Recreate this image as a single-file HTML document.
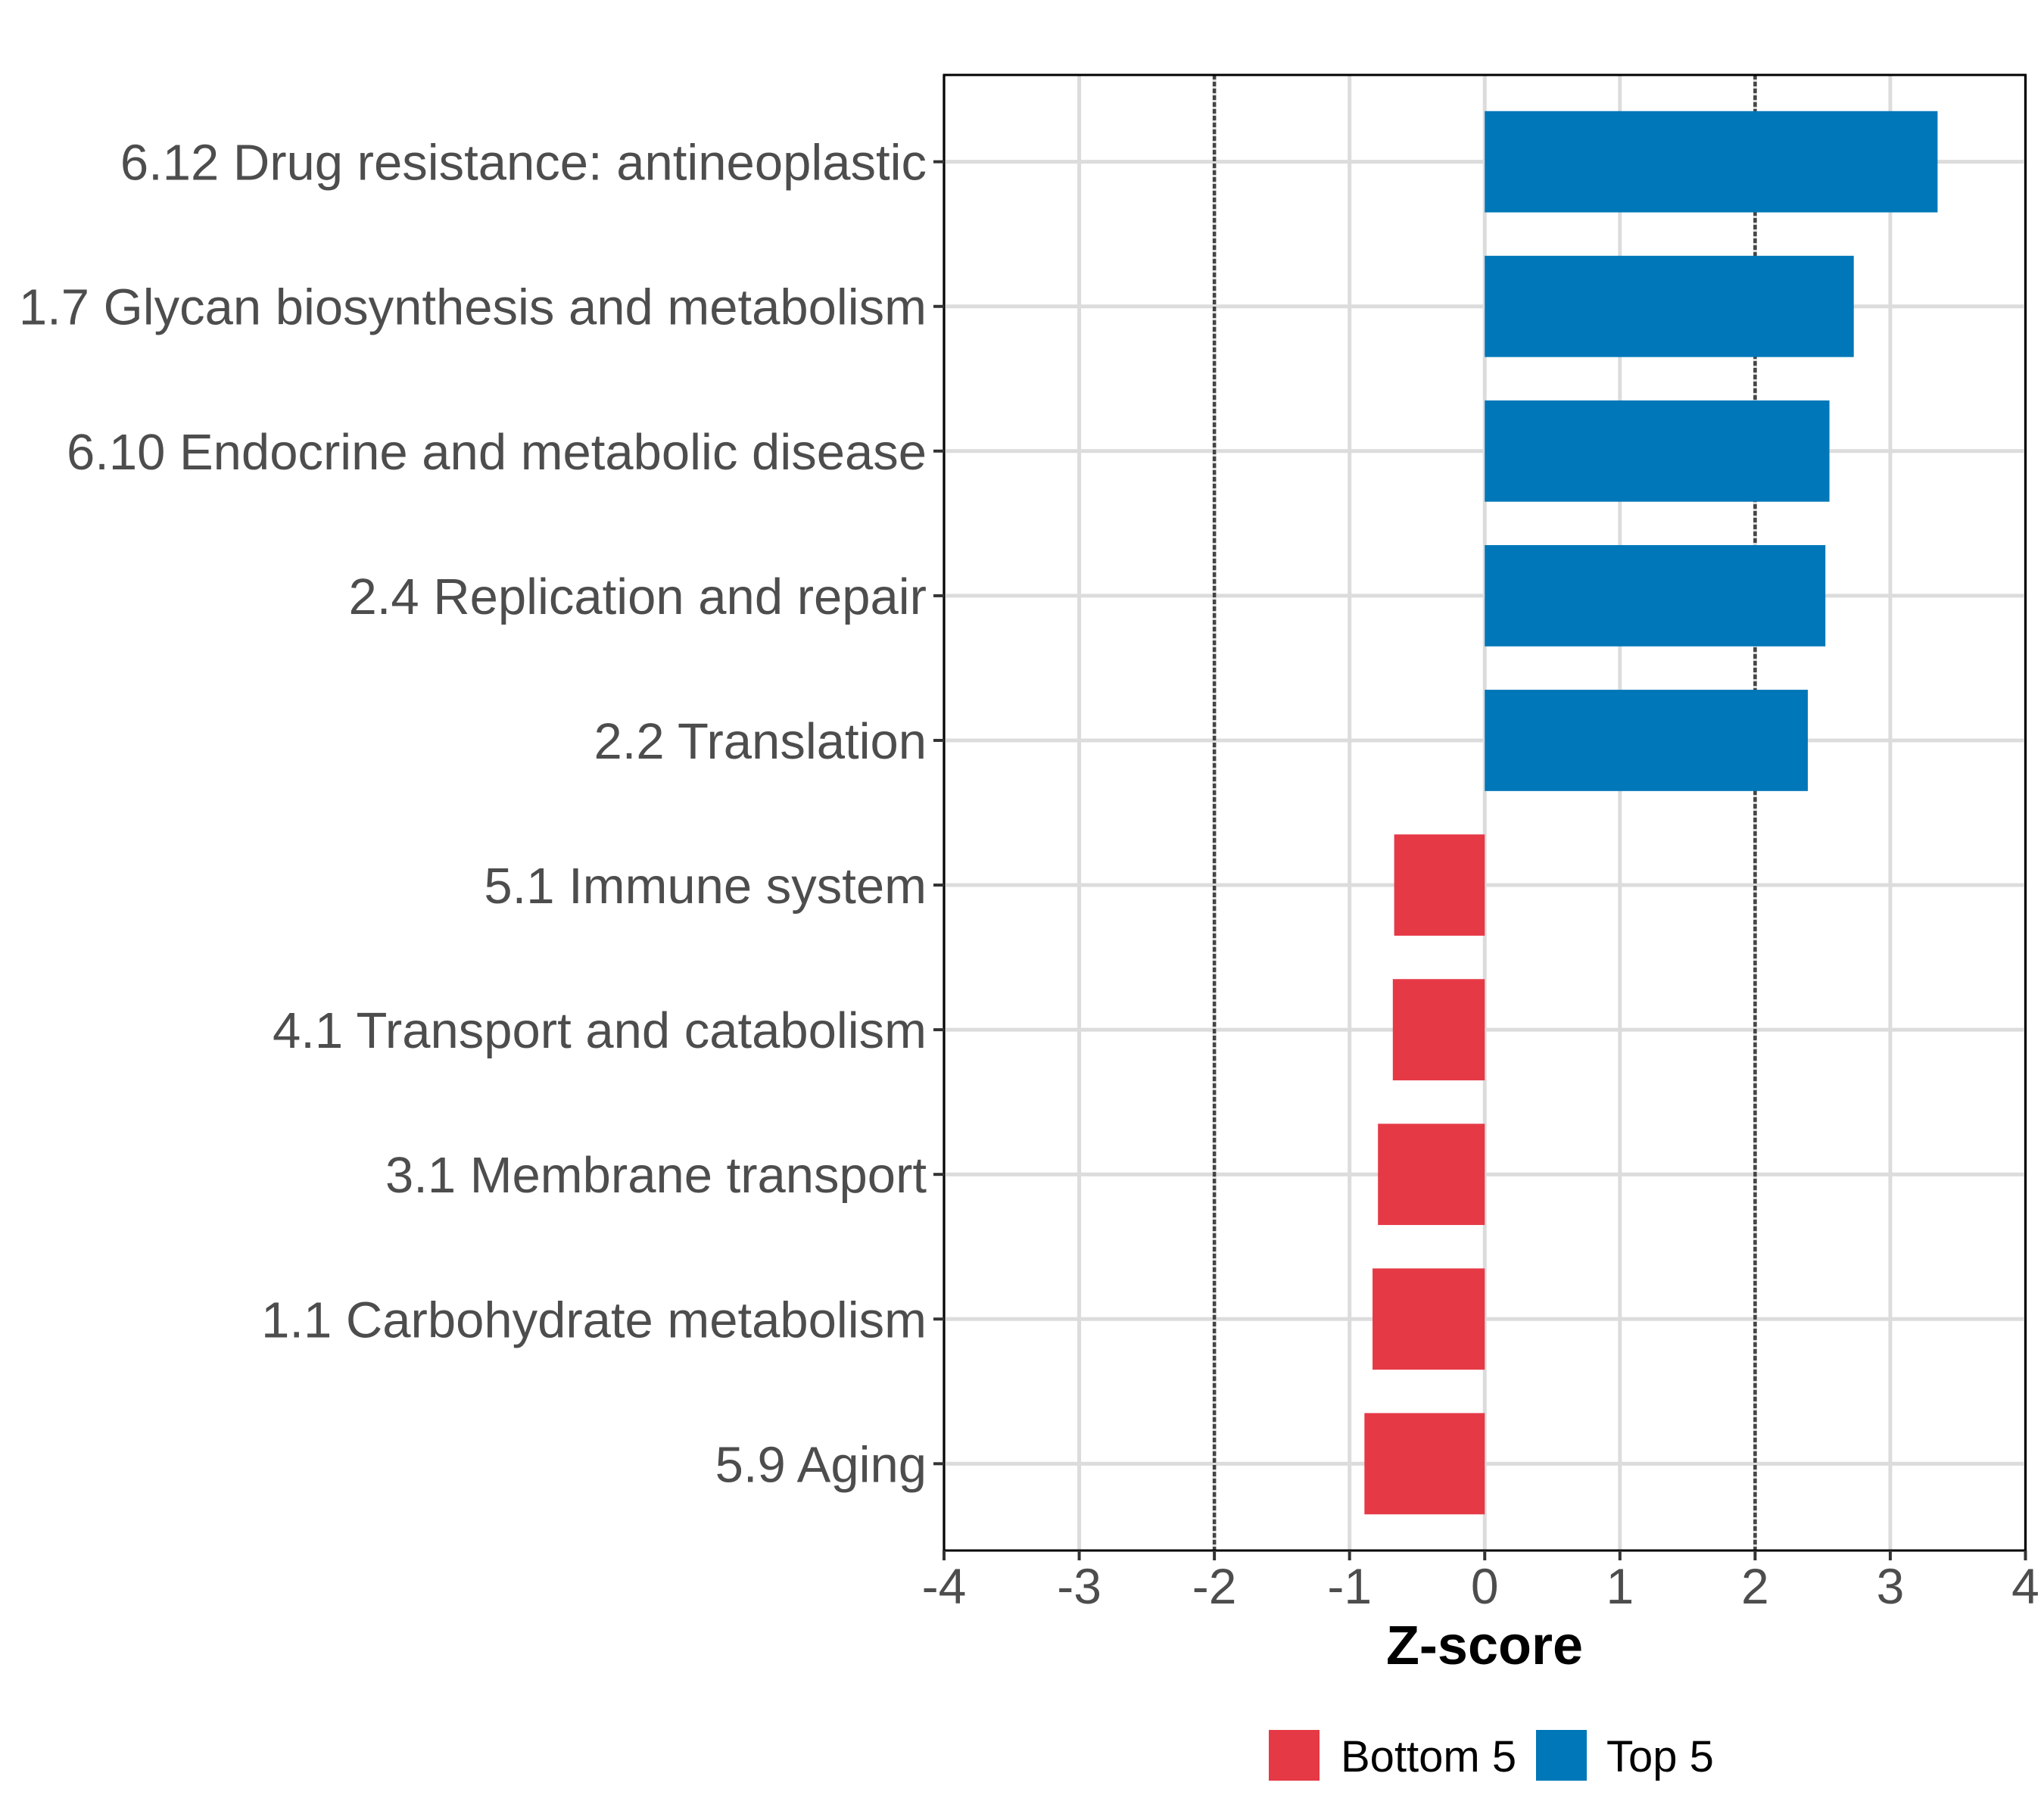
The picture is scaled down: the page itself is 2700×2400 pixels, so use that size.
<!DOCTYPE html>
<html><head><meta charset="utf-8"><style>
html,body{margin:0;padding:0;background:#fff}
svg{display:block}
text{font-family:"Liberation Sans",Arial,sans-serif}
</style></head><body>
<svg id="chart" width="2700" height="2400" viewBox="0 0 2700 2400" xmlns="http://www.w3.org/2000/svg">
<g id="grid"></g>
<g id="bars"></g>
<g id="axes"></g>
<text x="1961" y="2198" text-anchor="middle" font-size="72" font-weight="bold" fill="#000">Z-score</text>
<g>
<rect x="1676" y="2285" width="67" height="67" fill="#E63946"/>
<text x="1771" y="2340" font-size="58" fill="#000">Bottom 5</text>
<rect x="2029" y="2285" width="67" height="67" fill="#0077B8"/>
<text x="2122" y="2340" font-size="58" fill="#000">Top 5</text>
</g>
</svg>
<script>
const categories = ["6.12 Drug resistance: antineoplastic","1.7 Glycan biosynthesis and metabolism","6.10 Endocrine and metabolic disease","2.4 Replication and repair","2.2 Translation","5.1 Immune system","4.1 Transport and catabolism","3.1 Membrane transport","1.1 Carbohydrate metabolism","5.9 Aging"];
const values = [3.35, 2.73, 2.55, 2.52, 2.39, -0.67, -0.68, -0.79, -0.83, -0.89];
const groups = ["Top 5","Top 5","Top 5","Top 5","Top 5","Bottom 5","Bottom 5","Bottom 5","Bottom 5","Bottom 5"];
const xTicks = [-4,-3,-2,-1,0,1,2,3,4];
const thresholds = [-2, 2];

const NS = "http://www.w3.org/2000/svg";
const L = 1247, R = 2675.5, T = 99, B = 2048;
const xMin = -4, xMax = 4;
function xs(v){ return L + (v - xMin) / (xMax - xMin) * (R - L); }
const band = (B - T) / (categories.length - 1 + 1.2);
function ys(i){ return T + 0.6 * band + i * band; }
function mk(tag, attrs, parent){ const e = document.createElementNS(NS, tag); for (const k in attrs) e.setAttribute(k, attrs[k]); parent.appendChild(e); return e; }
const grid = document.getElementById('grid'), bars = document.getElementById('bars'), axes = document.getElementById('axes');

xTicks.forEach(t => {
  const l = mk('line', {x1: xs(t), x2: xs(t), y1: T, y2: B, stroke: '#dcdcdc', 'stroke-width': 5}, grid);
  
  
});
categories.forEach((c, i) => {
  const l = mk('line', {x1: L, x2: R, y1: ys(i), y2: ys(i), stroke: '#dcdcdc', 'stroke-width': 5}, grid);
  
  
});
thresholds.forEach(t => {
  const l = mk('line', {x1: xs(t), x2: xs(t), y1: T, y2: B, stroke: '#444', 'stroke-width': 4.5, 'stroke-dasharray': '6 3'}, grid);
  
  
});
const bh = band * 0.7;
values.forEach((v, i) => {
  const x0 = xs(0), x1 = xs(v);
  const r = mk('rect', {x: Math.min(x0, x1), y: ys(i) - bh / 2, width: Math.abs(x1 - x0), height: bh, fill: groups[i] === 'Top 5' ? '#0077B8' : '#E63946'}, bars);
  
  
});
const frame = mk('rect', {x: L, y: T, width: R - L, height: B - T, fill: 'none', stroke: '#000', 'stroke-width': 3}, axes);


categories.forEach((c, i) => {
  const tk = mk('line', {x1: L - 14, x2: L, y1: ys(i), y2: ys(i), stroke: '#333', 'stroke-width': 4}, axes);
  
  
  const tx = mk('text', {x: 1224, y: ys(i) + 24, 'text-anchor': 'end', 'font-size': 67, fill: '#4d4d4d'}, axes);
  tx.textContent = c;
  
  
});
xTicks.forEach(t => {
  const tk = mk('line', {x1: xs(t), x2: xs(t), y1: B, y2: B + 13, stroke: '#333', 'stroke-width': 4}, axes);
  
  
  const tx = mk('text', {x: xs(t), y: 2118, 'text-anchor': 'middle', 'font-size': 66, fill: '#4d4d4d'}, axes);
  tx.textContent = String(t);
  
  
});
</script>
</body></html>
